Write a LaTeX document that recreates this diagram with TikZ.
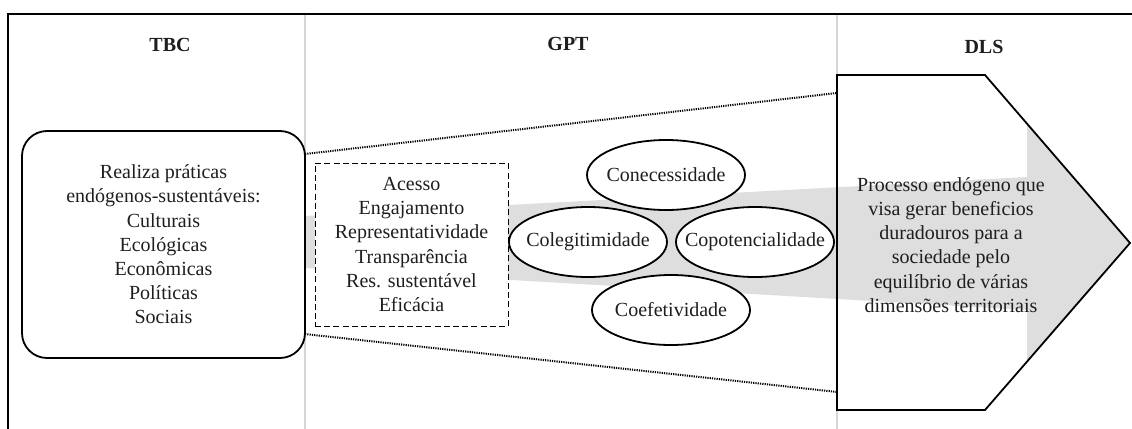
\documentclass[tikz,border=0pt]{standalone}
\usepackage{fontspec}
\setmainfont{Liberation Serif}
\usetikzlibrary{shapes.geometric}
\definecolor{bandgray}{RGB}{222,222,222}
\definecolor{sepgray}{RGB}{214,214,214}
\definecolor{inkc}{RGB}{30,30,30}
\begin{document}
\begin{tikzpicture}[x=0.5pt,y=-0.5pt,
  txt/.style={align=center,font=\fontsize{10}{12.1}\selectfont,inner sep=0,text=inkc},
  hdr/.style={font=\fontsize{10}{12}\selectfont\bfseries,inner sep=0,text=inkc},
  oval/.style={ellipse,draw,line width=0.9pt,fill=white,minimum width=79pt,minimum height=35pt,inner sep=0,font=\fontsize{10}{12}\selectfont,text=inkc},
  roundbox/.style={draw,line width=0.9pt,rounded corners=12.5pt,minimum width=141.5pt,minimum height=113.5pt,align=center,font=\fontsize{10}{12.1}\selectfont,inner sep=0,text=inkc},
  dashbox/.style={draw,line width=0.5pt,dash pattern=on 3pt off 1.6pt,fill=white,minimum width=96.5pt,minimum height=81.5pt,align=center,font=\fontsize{10}{12.1}\selectfont,inner sep=0,text=inkc},
  dotline/.style={line width=1pt,dash pattern=on 0.6pt off 0.55pt},
  sepline/.style={sepgray,line width=0.6pt},
  frameline/.style={line width=1.2pt},
  pent/.style={line width=0.9pt,line join=miter}]
\useasboundingbox (0,0) rectangle (1132,429);
% separators
\draw[sepline] (305,14) -- (305,440);
\draw[sepline] (837,14) -- (837,440);
% frame
\draw[frameline] (8,445) -- (8,14) -- (1145,14);
% headers
\node[hdr] (htbc) at (170,45) {TBC};
\node[hdr] (hgpt) at (568,44) {GPT};
\node[hdr] (hdls) at (984,47) {DLS};
% gray band arrow
\fill[bandgray] (305,216) -- (1027,177) -- (1027,123) -- (1130,243) -- (1027,363) -- (1027,310) -- (305,268) -- cycle;
% pentagon
\coordinate (p1) at (837,75);
\coordinate (p2) at (985,75);
\coordinate (p3) at (1130,243);
\coordinate (p4) at (985,410);
\coordinate (p5) at (837,410);
\draw[pent] (p1) -- (p2) -- (p3) -- (p4) -- (p5) -- cycle;
\node[txt] (dls) at (951,245) {Processo endógeno que\\visa gerar beneficios\\duradouros para a\\sociedade pelo\\equilíbrio de várias\\dimensões territoriais};
% TBC box
\node[roundbox] (tbc) at (163.5,244.5) {Realiza práticas\\endógenos-sustentáveis:\\Culturais\\Ecológicas\\Econômicas\\Políticas\\Sociais};
% dotted lines
\coordinate (a1) at (305,154);
\coordinate (a2) at (305,334);
\coordinate (b1) at (837,93);
\coordinate (b2) at (837,392);
\draw[dotline] (a1) -- (b1);
\draw[dotline] (a2) -- (b2);
% GPT dashed box
\node[dashbox] (gpt) at (411.5,244.5) {Acesso\\Engajamento\\Representatividade\\Transparência\\Res. sustentável\\Eficácia};
% ellipses
\node[oval] (conec) at (666,175) {\makebox[0pt][c]{Conecessidade}};
\node[oval] (coleg) at (588,242) {\makebox[0pt][c]{Colegitimidade}};
\node[oval] (copot) at (755,242) {\makebox[0pt][c]{Copotencialidade}};
\node[oval] (coef) at (671,310) {\makebox[0pt][c]{Coefetividade}};
\end{tikzpicture}
\end{document}
